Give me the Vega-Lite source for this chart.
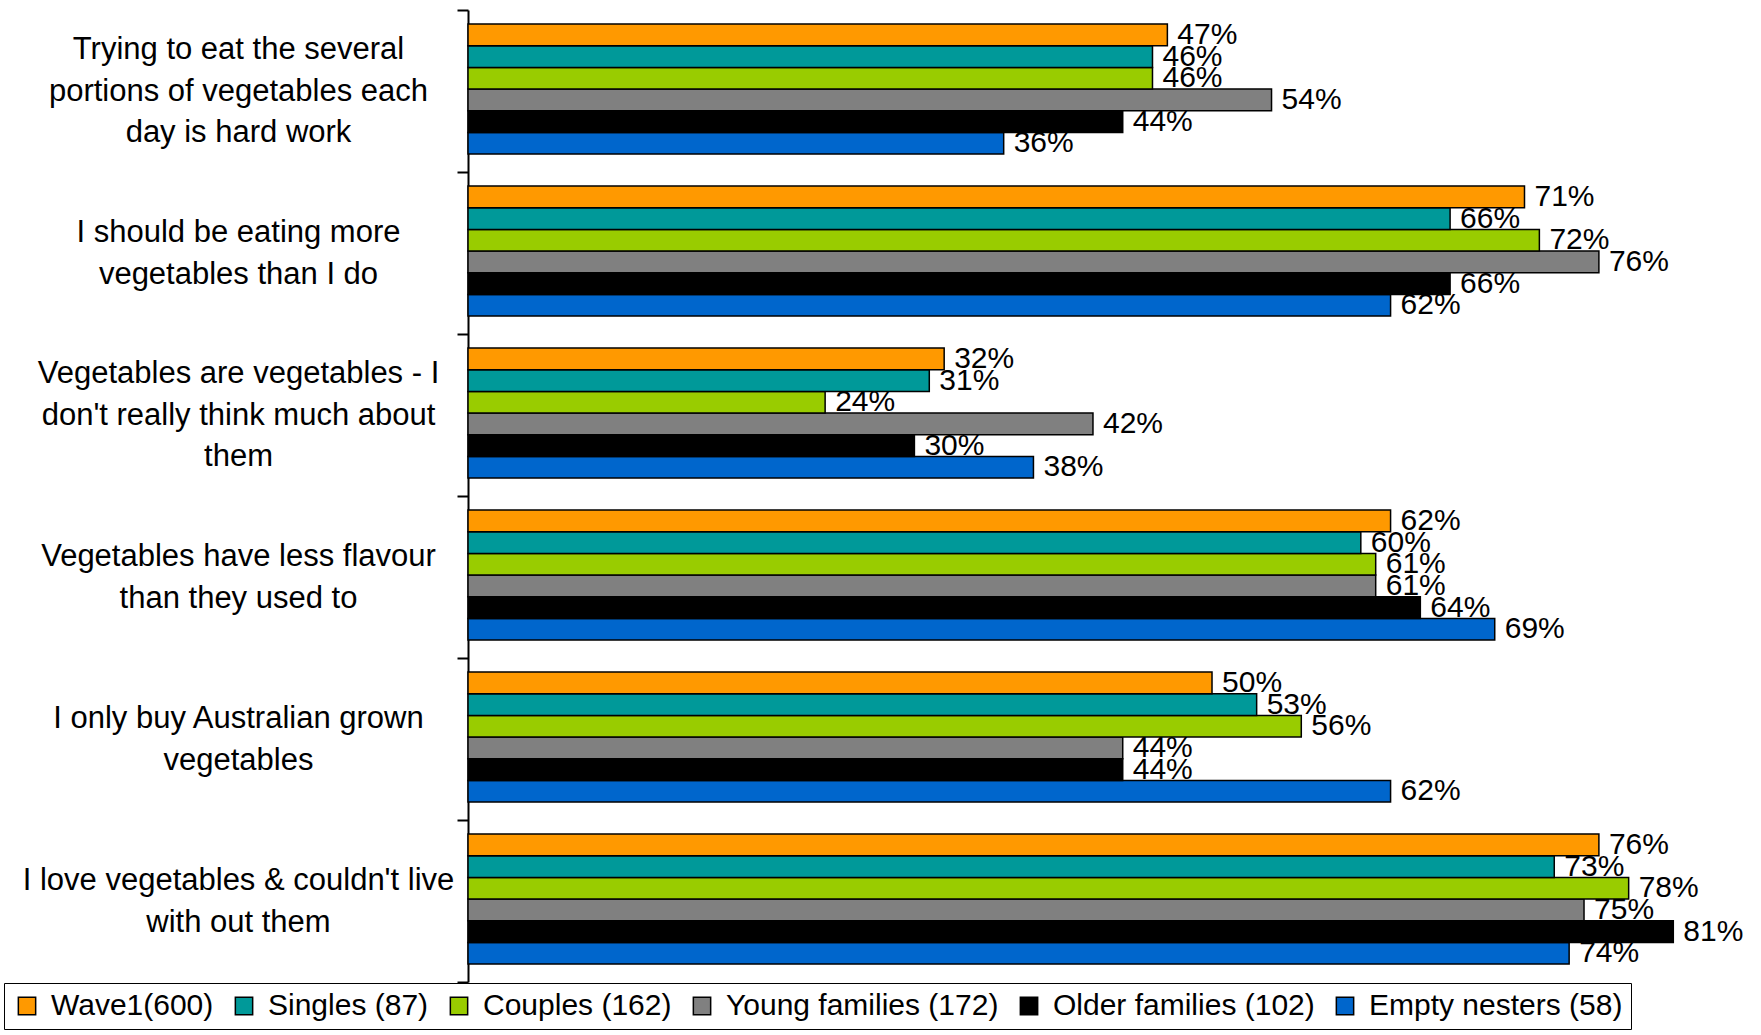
{
  "$schema": "https://vega.github.io/schema/vega-lite/v6.json",
  "autosize": {"type": "none"},
  "width": 1280,
  "height": 972,
  "padding": {"left": 468, "top": 10, "right": 13, "bottom": 53},
  "background": "white",
  "title": {
    "text": "Base: All respondents",
    "anchor": "start",
    "frame": "group",
    "font": "Liberation Sans",
    "fontSize": 31,
    "fontStyle": "italic",
    "fontWeight": "normal",
    "color": "black",
    "baseline": "alphabetic",
    "offset": -13,
    "dx": -425
  },
  "data": {
    "values": [
      {"statement": "Trying to eat the several|portions of vegetables each|day is hard work", "group": "Wave1(600)", "value": 0.47},
      {"statement": "Trying to eat the several|portions of vegetables each|day is hard work", "group": "Singles (87)", "value": 0.46},
      {"statement": "Trying to eat the several|portions of vegetables each|day is hard work", "group": "Couples (162)", "value": 0.46},
      {"statement": "Trying to eat the several|portions of vegetables each|day is hard work", "group": "Young families (172)", "value": 0.54},
      {"statement": "Trying to eat the several|portions of vegetables each|day is hard work", "group": "Older families (102)", "value": 0.44},
      {"statement": "Trying to eat the several|portions of vegetables each|day is hard work", "group": "Empty nesters (58)", "value": 0.36},
      {"statement": "I should be eating more|vegetables than I do", "group": "Wave1(600)", "value": 0.71},
      {"statement": "I should be eating more|vegetables than I do", "group": "Singles (87)", "value": 0.66},
      {"statement": "I should be eating more|vegetables than I do", "group": "Couples (162)", "value": 0.72},
      {"statement": "I should be eating more|vegetables than I do", "group": "Young families (172)", "value": 0.76},
      {"statement": "I should be eating more|vegetables than I do", "group": "Older families (102)", "value": 0.66},
      {"statement": "I should be eating more|vegetables than I do", "group": "Empty nesters (58)", "value": 0.62},
      {"statement": "Vegetables are vegetables - I|don't really think much about|them", "group": "Wave1(600)", "value": 0.32},
      {"statement": "Vegetables are vegetables - I|don't really think much about|them", "group": "Singles (87)", "value": 0.31},
      {"statement": "Vegetables are vegetables - I|don't really think much about|them", "group": "Couples (162)", "value": 0.24},
      {"statement": "Vegetables are vegetables - I|don't really think much about|them", "group": "Young families (172)", "value": 0.42},
      {"statement": "Vegetables are vegetables - I|don't really think much about|them", "group": "Older families (102)", "value": 0.30},
      {"statement": "Vegetables are vegetables - I|don't really think much about|them", "group": "Empty nesters (58)", "value": 0.38},
      {"statement": "Vegetables have less flavour|than they used to", "group": "Wave1(600)", "value": 0.62},
      {"statement": "Vegetables have less flavour|than they used to", "group": "Singles (87)", "value": 0.60},
      {"statement": "Vegetables have less flavour|than they used to", "group": "Couples (162)", "value": 0.61},
      {"statement": "Vegetables have less flavour|than they used to", "group": "Young families (172)", "value": 0.61},
      {"statement": "Vegetables have less flavour|than they used to", "group": "Older families (102)", "value": 0.64},
      {"statement": "Vegetables have less flavour|than they used to", "group": "Empty nesters (58)", "value": 0.69},
      {"statement": "I only buy Australian grown|vegetables", "group": "Wave1(600)", "value": 0.50},
      {"statement": "I only buy Australian grown|vegetables", "group": "Singles (87)", "value": 0.53},
      {"statement": "I only buy Australian grown|vegetables", "group": "Couples (162)", "value": 0.56},
      {"statement": "I only buy Australian grown|vegetables", "group": "Young families (172)", "value": 0.44},
      {"statement": "I only buy Australian grown|vegetables", "group": "Older families (102)", "value": 0.44},
      {"statement": "I only buy Australian grown|vegetables", "group": "Empty nesters (58)", "value": 0.62},
      {"statement": "I love vegetables & couldn't live|with out them", "group": "Wave1(600)", "value": 0.76},
      {"statement": "I love vegetables & couldn't live|with out them", "group": "Singles (87)", "value": 0.73},
      {"statement": "I love vegetables & couldn't live|with out them", "group": "Couples (162)", "value": 0.78},
      {"statement": "I love vegetables & couldn't live|with out them", "group": "Young families (172)", "value": 0.75},
      {"statement": "I love vegetables & couldn't live|with out them", "group": "Older families (102)", "value": 0.81},
      {"statement": "I love vegetables & couldn't live|with out them", "group": "Empty nesters (58)", "value": 0.74}
    ]
  },
  "encoding": {
    "y": {
      "field": "statement",
      "type": "nominal",
      "sort": null,
      "scale": {
        "domain": [
          "Trying to eat the several|portions of vegetables each|day is hard work",
          "I should be eating more|vegetables than I do",
          "Vegetables are vegetables - I|don't really think much about|them",
          "Vegetables have less flavour|than they used to",
          "I only buy Australian grown|vegetables",
          "I love vegetables & couldn't live|with out them"
        ],
        "paddingInner": 0,
        "paddingOuter": 0
      },
      "axis": {
        "title": null,
        "domainColor": "black",
        "domainWidth": 2,
        "tickColor": "black",
        "tickWidth": 2,
        "tickSize": 11,
        "tickBand": "extent",
        "labelFont": "Liberation Sans",
        "labelFontSize": 31,
        "labelColor": "black",
        "labelLineHeight": 41.5,
        "labelAlign": "center",
        "labelBaseline": {"condition": {"test": "length(split(datum.label, '|')) == 2", "value": "line-top"}, "value": "middle"},
        "labelOffset": -41.5,
        "labelLimit": 0,
        "labelPadding": 219,
        "labelExpr": "isValid(datum.value) && length(split(datum.label, '|')) > 1 ? split(datum.label, '|') : ''"
      }
    },
    "yOffset": {
      "field": "group",
      "type": "nominal",
      "scale": {
        "domain": ["Wave1(600)", "Singles (87)", "Couples (162)", "Young families (172)", "Older families (102)", "Empty nesters (58)"],
        "paddingInner": 0,
        "paddingOuter": 0.74,
        "align": 0.44
      }
    },
    "x": {
      "field": "value",
      "type": "quantitative",
      "scale": {"domain": [0, 0.8602], "nice": false, "zero": true},
      "axis": null
    },
    "color": {
      "field": "group",
      "type": "nominal",
      "scale": {
        "domain": ["Wave1(600)", "Singles (87)", "Couples (162)", "Young families (172)", "Older families (102)", "Empty nesters (58)"],
        "range": ["#FF9900", "#009999", "#99CC00", "#808080", "#000000", "#0066CC"]
      },
      "legend": {
        "orient": "none",
        "legendX": -464,
        "legendY": 973,
        "direction": "horizontal",
        "title": null,
        "symbolType": "square",
        "symbolSize": 300,
        "symbolStrokeColor": "black",
        "symbolStrokeWidth": 1.5,
        "symbolOpacity": 1,
        "labelFont": "Liberation Sans",
        "labelFontSize": 30,
        "labelColor": "black",
        "labelLimit": 0,
        "labelOffset": 9,
        "columnPadding": 15,
        "padding": 8,
        "strokeColor": "black",
        "fillColor": "white"
      }
    }
  },
  "layer": [
    {"transform": [{"filter": "datum.group == 'Empty nesters (58)'"}], "mark": {"type": "bar", "stroke": "black", "strokeWidth": 1.5}},
    {"transform": [{"filter": "datum.group == 'Empty nesters (58)'"}], "mark": {"type": "text", "align": "left", "baseline": "middle", "dx": 10, "font": "Liberation Sans", "fontSize": 30}, "encoding": {"color": {"value": "black"}, "text": {"field": "value", "format": ".0%"}}},
    {"transform": [{"filter": "datum.group == 'Older families (102)'"}], "mark": {"type": "bar", "stroke": "black", "strokeWidth": 1.5}},
    {"transform": [{"filter": "datum.group == 'Older families (102)'"}], "mark": {"type": "text", "align": "left", "baseline": "middle", "dx": 10, "font": "Liberation Sans", "fontSize": 30}, "encoding": {"color": {"value": "black"}, "text": {"field": "value", "format": ".0%"}}},
    {"transform": [{"filter": "datum.group == 'Young families (172)'"}], "mark": {"type": "bar", "stroke": "black", "strokeWidth": 1.5}},
    {"transform": [{"filter": "datum.group == 'Young families (172)'"}], "mark": {"type": "text", "align": "left", "baseline": "middle", "dx": 10, "font": "Liberation Sans", "fontSize": 30}, "encoding": {"color": {"value": "black"}, "text": {"field": "value", "format": ".0%"}}},
    {"transform": [{"filter": "datum.group == 'Couples (162)'"}], "mark": {"type": "bar", "stroke": "black", "strokeWidth": 1.5}},
    {"transform": [{"filter": "datum.group == 'Couples (162)'"}], "mark": {"type": "text", "align": "left", "baseline": "middle", "dx": 10, "font": "Liberation Sans", "fontSize": 30}, "encoding": {"color": {"value": "black"}, "text": {"field": "value", "format": ".0%"}}},
    {"transform": [{"filter": "datum.group == 'Singles (87)'"}], "mark": {"type": "bar", "stroke": "black", "strokeWidth": 1.5}},
    {"transform": [{"filter": "datum.group == 'Singles (87)'"}], "mark": {"type": "text", "align": "left", "baseline": "middle", "dx": 10, "font": "Liberation Sans", "fontSize": 30}, "encoding": {"color": {"value": "black"}, "text": {"field": "value", "format": ".0%"}}},
    {"transform": [{"filter": "datum.group == 'Wave1(600)'"}], "mark": {"type": "bar", "stroke": "black", "strokeWidth": 1.5}},
    {"transform": [{"filter": "datum.group == 'Wave1(600)'"}], "mark": {"type": "text", "align": "left", "baseline": "middle", "dx": 10, "font": "Liberation Sans", "fontSize": 30}, "encoding": {"color": {"value": "black"}, "text": {"field": "value", "format": ".0%"}}}
  ],
  "config": {
    "view": {"stroke": null},
    "font": "Liberation Sans"
  }
}
